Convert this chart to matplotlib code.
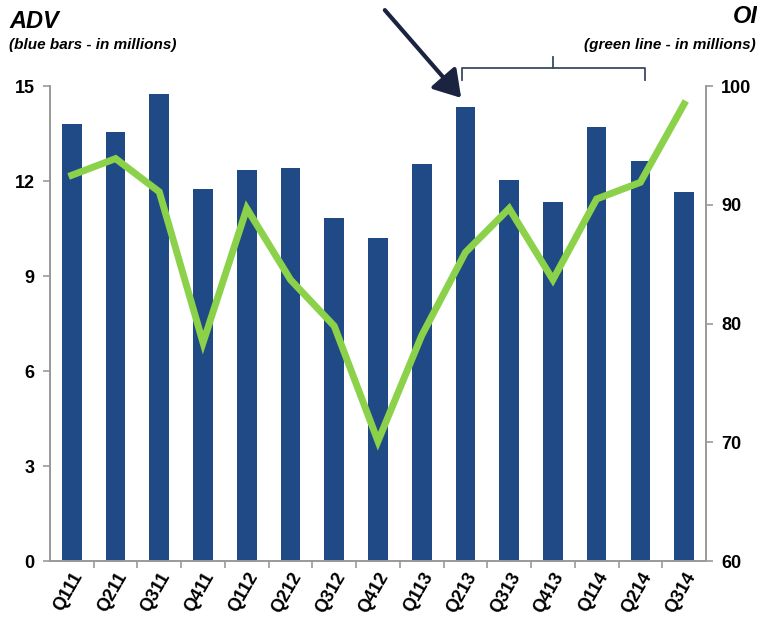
import matplotlib.pyplot as plt
from matplotlib.patches import FancyArrowPatch

plt.rcParams['font.family'] = ['Liberation Sans', 'DejaVu Sans']

quarters = ['Q111', 'Q211', 'Q311', 'Q411', 'Q112', 'Q212', 'Q312', 'Q412',
            'Q113', 'Q213', 'Q313', 'Q413', 'Q114', 'Q214', 'Q314']
adv = [13.8, 13.55, 14.75, 11.75, 12.35, 12.4, 10.85, 10.2,
       12.55, 14.35, 12.05, 11.35, 13.7, 12.65, 11.65]
oi = [92.5, 93.9, 91.1, 78.4, 89.7, 83.7, 79.8, 70.1,
      79.0, 86.0, 89.7, 83.7, 90.5, 91.9, 98.5]

bar_color = '#1f4a85'
line_color = '#8cd14a'
axis_color = '#999999'

fig = plt.figure(figsize=(7.57, 6.27), dpi=100)
ax = fig.add_axes([0.066, 0.105, 0.8666, 0.7576])
x = list(range(len(quarters)))
ax.bar(x, adv, width=0.45, color=bar_color, zorder=2)
ax.set_xlim(-0.5, len(quarters) - 0.5)
ax.set_ylim(0, 15)
ax.set_yticks([0, 3, 6, 9, 12, 15])

# Second axis for open interest
ax2 = ax.twinx()
ax2.plot(x, oi, color=line_color, linewidth=5, solid_joinstyle='miter', zorder=3)
ax2.set_ylim(60, 100)
ax2.set_yticks([60, 70, 80, 90, 100])

for a in (ax, ax2):
    a.spines['top'].set_visible(False)
    for s in ('left', 'right', 'bottom'):
        a.spines[s].set_color(axis_color)
        a.spines[s].set_linewidth(1.2)
    a.tick_params(axis='y', colors=axis_color, labelcolor='black',
                  labelsize=13, length=5, width=1.2, pad=6)
    for lbl in a.get_yticklabels():
        lbl.set_fontweight('bold')

# Category ticks sit between the bars
ax.set_xticks([i + 0.5 for i in x[:-1]], minor=True)
ax.set_xticks(x)
ax.set_xticklabels(quarters, rotation=60, ha='right', rotation_mode='anchor',
                   fontsize=13, fontweight='bold')
ax.tick_params(axis='x', which='major', length=0, pad=6)
ax.tick_params(axis='x', which='minor', length=5, width=1.2, colors=axis_color)

# Titles
fig.text(0.012, 0.965, 'ADV', fontsize=17, fontweight='bold', style='italic', va='center')
fig.text(0.012, 0.928, '(blue bars - in millions)', fontsize=11, fontweight='bold',
         style='italic', va='center')
fig.text(0.968, 0.974, 'OI', fontsize=17, fontweight='bold', style='italic', va='center')
fig.text(0.999, 0.928, '(green line - in millions)', fontsize=11, fontweight='bold',
         style='italic', va='center', ha='right')

# Arrow pointing at Q213
arrow = FancyArrowPatch((383 / 757, 1 - 8 / 627), (463 / 757, 1 - 100 / 627),
                        transform=fig.transFigure, arrowstyle='-|>,head_length=8,head_width=5',
                        color='#1a2340', linewidth=3, mutation_scale=2)
fig.patches.append(arrow)

# Bracket over Q213 - Q214
bx0, bx1, bmid = 462 / 757, 645 / 757, 553 / 757
by, bend, btop = 1 - 68 / 627, 1 - 80 / 627, 1 - 57 / 627
bc = '#3a4a60'
fig.add_artist(plt.Line2D([bx0, bx0, bx1, bx1], [bend, by, by, bend], color=bc, linewidth=1.3))
fig.add_artist(plt.Line2D([bmid, bmid], [by, btop], color=bc, linewidth=1.3))

plt.savefig('out.png', dpi=100)
